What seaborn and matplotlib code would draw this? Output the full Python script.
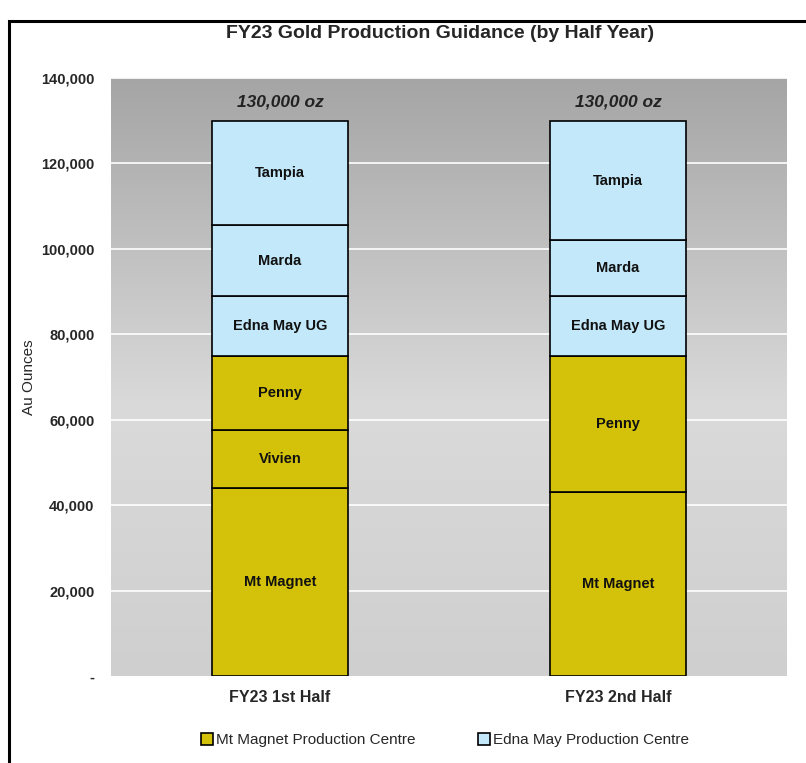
import numpy as np
import matplotlib
matplotlib.use("Agg")
import matplotlib.pyplot as plt
from matplotlib.colors import LinearSegmentedColormap
from matplotlib.patches import Rectangle
from matplotlib.lines import Line2D
import seaborn as sns

# data (ounces)
halves = ["FY23 1st Half", "FY23 2nd Half"]
segments = ["Mt Magnet", "Vivien", "Penny", "Edna May UG", "Marda", "Tampia"]
mt_magnet = [44000, 43000]
vivien = [13500, 0]
penny = [17500, 32000]
edna_may_ug = [14000, 14000]
marda = [16500, 13000]
tampia = [24500, 28000]
totals = ["130,000 oz", "130,000 oz"]
centres = ["Mt Magnet Production Centre", "Edna May Production Centre"]

GOLD = "#D4C20A"
BLUE = "#C2E8F9"
seg_values = [mt_magnet, vivien, penny, edna_may_ug, marda, tampia]
seg_colors = [GOLD, GOLD, GOLD, BLUE, BLUE, BLUE]

sns.set_style("white")
plt.rcParams["font.family"] = ["Liberation Sans Narrow", "Liberation Sans", "DejaVu Sans"]

fig = plt.figure(figsize=(8.06, 7.63), dpi=100)
ax = fig.add_axes([111 / 806, 1 - 676 / 763, (787 - 111) / 806, (676 - 78) / 763])

# gradient background of the plot area (dark at top, light lower down)
cmap = LinearSegmentedColormap.from_list(
    "bg", [(0, "#A5A5A5"), (0.55, "#DADADA"), (1, "#CFCFCF")])
grad = np.linspace(0, 1, 256).reshape(-1, 1)
ax.imshow(grad, cmap=cmap, aspect="auto", extent=[-0.5, 1.5, 0, 140000],
          origin="upper", zorder=0, interpolation="bicubic")

bottom = np.zeros(2)
for name, vals, col in zip(segments, seg_values, seg_colors):
    vals = np.array(vals, dtype=float)
    sns.barplot(x=halves, y=vals, bottom=bottom, color=col, width=0.4,
                edgecolor="black", linewidth=1.2, saturation=1, ax=ax, zorder=3)
    for i, v in enumerate(vals):
        if v > 0:
            ax.text(i, bottom[i] + v / 2, name, ha="center", va="center",
                    fontsize=10.5, fontweight="bold", color="#111111", zorder=4)
    bottom += vals

for i, t in enumerate(totals):
    ax.text(i, bottom[i] + 2600, t, ha="center", va="bottom", fontsize=12.5,
            fontweight="bold", fontstyle="italic", color="#222222", zorder=4)

ax.set_xlim(-0.5, 1.5)
ax.set_ylim(0, 140000)
ax.set_yticks(np.arange(0, 140001, 20000))
ax.set_yticklabels(["-"] + [f"{v:,}" for v in range(20000, 140001, 20000)],
                   fontsize=10.5, fontweight="bold")
for y in range(20000, 140001, 20000):
    ax.axhline(y, color="white", linewidth=1.2, zorder=1)
ax.tick_params(axis="y", length=0, pad=12)
ax.tick_params(axis="x", length=0, pad=10, labelsize=11.5)
for lbl in ax.get_xticklabels():
    lbl.set_fontweight("bold")
ax.set_xlabel("")
ax.set_ylabel("Au Ounces", fontsize=11)
ax.yaxis.set_label_coords((36 - 111) / 676, 0.5)
for s in ax.spines.values():
    s.set_visible(False)

fig.text(440 / 806, 1 - 34 / 763, "FY23 Gold Production Guidance (by Half Year)",
         ha="center", va="center", fontsize=14, fontweight="bold")

handles = [Line2D([], [], marker="s", linestyle="", markersize=9,
                  markerfacecolor=c, markeredgecolor="black", markeredgewidth=1.2)
           for c in [GOLD, BLUE]]
fig.legend(handles, centres, loc="center", bbox_to_anchor=(444 / 806, 1 - 740 / 763),
           ncol=2, frameon=False, fontsize=11, handletextpad=0.1,
           columnspacing=4.0, handlelength=1.0)

# outer frame (cut off on the right and bottom)
fig.patches.append(Rectangle((9 / 806, -0.05), 1.0, 1 - 21 / 763 + 0.05,
                             transform=fig.transFigure, fill=False,
                             edgecolor="black", linewidth=2.2))

fig.savefig("out.png", dpi=100)
